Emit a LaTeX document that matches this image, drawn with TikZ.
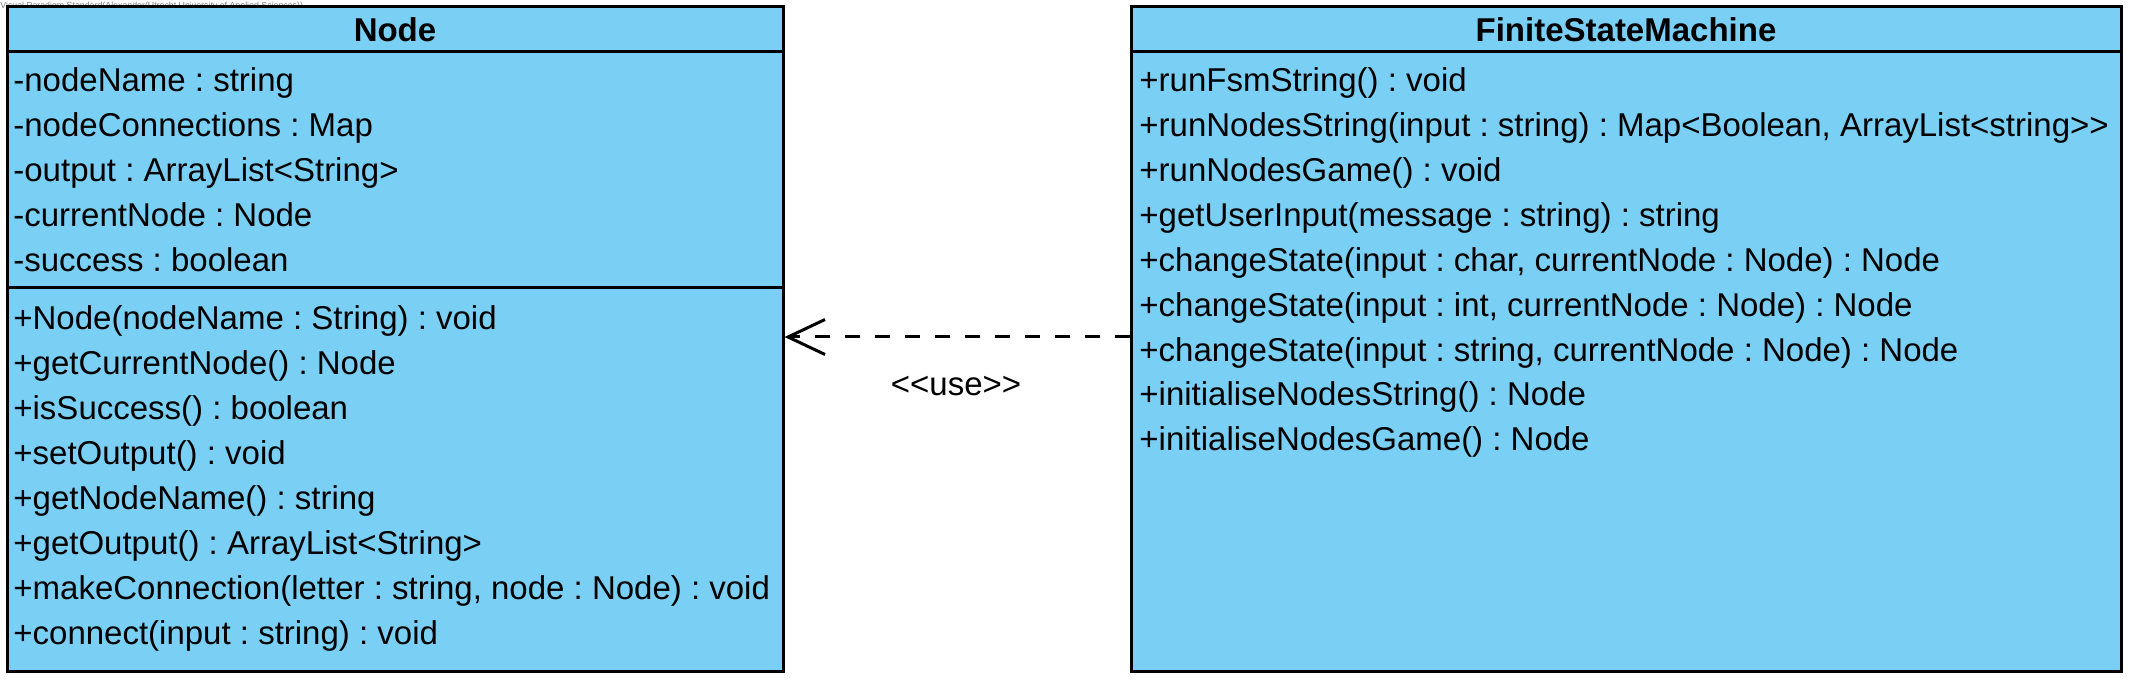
\documentclass[tikz,border=0pt]{standalone}
\usepackage{fontspec}
\setmainfont{Liberation Sans}[Ligatures=TeXOff]
\usetikzlibrary{arrows.meta,positioning,fit}
\frenchspacing
\definecolor{clsfill}{RGB}{122,207,245}
\newcommand{\umlfont}{\fontsize{16.5}{20}\selectfont}
\tikzset{
  clsbox/.style={draw,line width=1.5pt,fill=clsfill,inner sep=0pt},
  hdr/.style={font=\umlfont\bfseries,inner sep=0pt,anchor=base},
  mbr/.style={inner sep=0pt,anchor=base west},
  sep/.style={line width=1.5pt},
  dep/.style={line width=1.5pt,dash pattern=on 7.5pt off 7.5pt,
    -{Straight Barb[length=18.5pt,width=17.5pt]}},
}

\begin{document}
\begin{tikzpicture}[x=0.5pt,y=-0.5pt,font=\umlfont]
  \useasboundingbox (0,0) rectangle (2133,684);
  \node[anchor=north west,inner sep=0pt,text=gray,font=\fontsize{4.4}{5}\selectfont] (wm) at (0,2)
    {Visual Paradigm Standard(Alexander(Utrecht University of Applied Sciences))};
  % classes
  \node[clsbox,fit={(7,6.5) (783,671)}] (nodecls) {};
  \node[clsbox,fit={(1131,6.5) (2121,671)}] (fsm) {};
  \draw[sep] (nodecls.west |- 0,51.5) -- (nodecls.east |- 0,51.5);
  \draw[sep] (nodecls.west |- 0,288) -- (nodecls.east |- 0,288);
  \draw[sep] (fsm.west |- 0,51.5) -- (fsm.east |- 0,51.5);
  \node[hdr] (nodehdr) at (395,41.5) {Node};
  \node[hdr] (fsmhdr) at (1626,41.5) {FiniteStateMachine};
  % members
  \foreach \m [count=\i] in {-nodeName : string, -nodeConnections : Map,
      -output : ArrayList<String>, -currentNode : Node, -success : boolean}
    \node[mbr] (na\i) at (13,{91.7+44.9*(\i-1)}) {\m};
  \foreach \m [count=\i] in {+Node(nodeName : String) : void,
      +getCurrentNode() : Node, +isSuccess() : boolean, +setOutput() : void,
      +getNodeName() : string, +getOutput() : ArrayList<String>,
      {+makeConnection(letter : string, node : Node) : void},
      +connect(input : string) : void}
    \node[mbr] (no\i) at (13,{330+44.9*(\i-1)}) {\m};
  \foreach \m [count=\i] in {+runFsmString() : void,
      {+runNodesString(input : string) : Map<Boolean, ArrayList<string>>},
      +runNodesGame() : void, +getUserInput(message : string) : string,
      {+changeState(input : char, currentNode : Node) : Node},
      {+changeState(input : int, currentNode : Node) : Node},
      {+changeState(input : string, currentNode : Node) : Node},
      +initialiseNodesString() : Node, +initialiseNodesGame() : Node}
    \node[mbr] (fo\i) at (1139,{91.7+44.9*(\i-1)}) {\m};
  % dependency
  \coordinate (usey) at (0,337);
  \draw[dep] (fsm.west |- usey) -- (nodecls.east |- usey);
  \node[inner sep=0pt,anchor=base] (uselbl) at (956,395) {<<use>>};
\end{tikzpicture}
\end{document}
